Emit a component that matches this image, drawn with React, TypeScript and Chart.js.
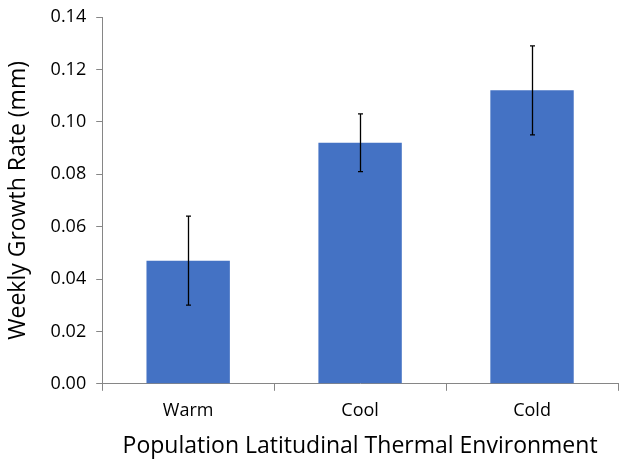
import React, { useEffect, useRef } from "react";
import { Chart, registerables } from "chart.js";

Chart.register(...registerables);

const categories = ["Warm", "Cool", "Cold"];
const growthRates = [0.047, 0.092, 0.112];
const errorMargins = [0.017, 0.011, 0.017];
const yTicks = [0, 0.02, 0.04, 0.06, 0.08, 0.1, 0.12, 0.14];

const FONT = "'Open Sans', 'Noto Sans', sans-serif";

const errorBarPlugin = {
  id: "errorBars",
  afterDatasetsDraw(chart: any) {
    const ctx = chart.ctx;
    const meta = chart.getDatasetMeta(0);
    const y = chart.scales.y;
    ctx.save();
    ctx.strokeStyle = "#000";
    ctx.lineWidth = 1.3;
    meta.data.forEach((bar: any, i: number) => {
      const x = Math.round(bar.x) + 0.5;
      const top = y.getPixelForValue(growthRates[i] + errorMargins[i]);
      const bot = y.getPixelForValue(growthRates[i] - errorMargins[i]);
      ctx.beginPath();
      ctx.moveTo(x, top);
      ctx.lineTo(x, bot);
      ctx.moveTo(x - 2.5, top);
      ctx.lineTo(x + 2.5, top);
      ctx.moveTo(x - 2.5, bot);
      ctx.lineTo(x + 2.5, bot);
      ctx.stroke();
    });
    ctx.restore();
  },
};

export default function App() {
  const ref = useRef<HTMLCanvasElement>(null);
  useEffect(() => {
    const chart = new Chart(ref.current!, {
      type: "bar",
      data: {
        labels: categories,
        datasets: [
          {
            data: growthRates,
            backgroundColor: "#4472C4",
            categoryPercentage: 1,
            barPercentage: 0.485,
          },
        ],
      },
      options: {
        animation: false,
        responsive: false,
        layout: { padding: { top: 17, right: 17, bottom: 0, left: 5 } },
        plugins: { legend: { display: false }, tooltip: { enabled: false } },
        scales: {
          x: {
            grid: {
              offset: true,
              drawOnChartArea: false,
              drawTicks: true,
              tickLength: 7,
              color: "#868686",
            },
            border: { color: "#868686", width: 1 },
            ticks: { color: "#000", font: { family: FONT, size: 18 }, padding: 9 },
            title: {
              display: true,
              text: "Population Latitudinal Thermal Environment",
              color: "#000",
              font: { family: FONT, size: 23 },
              padding: { top: 2, bottom: 0 },
            },
          },
          y: {
            min: 0,
            max: 0.14,
            afterBuildTicks: (s: any) => {
              s.ticks = yTicks.map((v) => ({ value: v }));
            },
            afterFit: (s: any) => {
              s.paddingTop = 0;
            },
            grid: {
              drawOnChartArea: false,
              drawTicks: true,
              tickLength: 6,
              color: "#868686",
            },
            border: { color: "#868686", width: 1 },
            ticks: {
              color: "#000",
              font: { family: FONT, size: 18 },
              padding: 10,
              callback: (v: any) => Number(v).toFixed(2),
            },
            title: {
              display: true,
              text: "Weekly Growth Rate (mm)",
              color: "#000",
              font: { family: FONT, size: 23 },
              padding: { top: 0, bottom: 8 },
            },
          },
        },
      },
      plugins: [errorBarPlugin],
    });
    return () => chart.destroy();
  }, []);
  return (
    <div style={{ position: "absolute", left: 0, top: 0, width: 635, height: 460, background: "#fff" }}>
      <canvas ref={ref} width={635} height={460} />
    </div>
  );
}
